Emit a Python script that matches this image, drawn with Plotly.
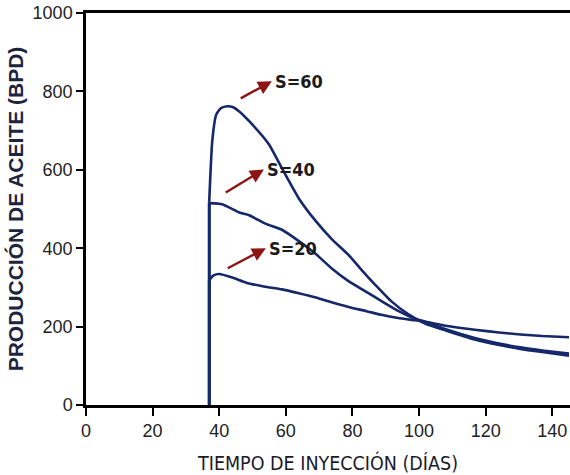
import plotly.graph_objects as go

# Oil production vs. injection time for three soaking values S
dias_s60 = [37.0, 37.0, 37.9, 39.1, 40.5, 42.4, 44.0, 46.0, 49.0, 54.9, 58.8, 63.9, 69.0, 73.7, 78.8, 82.7, 86.9, 91.6, 96.7, 101.8, 108.0, 116.7, 124.0, 130.4, 137.0, 145.0]
bpd_s60 = [0, 520, 673, 741, 757, 762, 760, 749, 724, 665, 604, 527, 469, 424, 383, 345, 306, 265, 232, 208, 190, 167, 153, 143, 135, 126]

dias_s40 = [37.0, 37.0, 40.9, 46.0, 49.0, 54.0, 58.8, 63.9, 69.0, 73.7, 78.8, 83.9, 88.7, 93.7, 98.8, 102.0, 108.0, 116.7, 124.0, 130.4, 137.0, 145.0]
bpd_s40 = [0, 515, 512, 491, 484, 462, 447, 418, 385, 349, 316, 290, 265, 240, 220, 212, 193, 171, 157, 147, 139, 131]

dias_s20 = [37.0, 37.0, 38.2, 40.0, 43.9, 48.1, 53.0, 58.8, 63.9, 69.0, 73.7, 78.8, 83.9, 88.7, 93.7, 98.8, 102.0, 108.0, 116.7, 124.0, 130.4, 137.0, 145.0]
bpd_s20 = [0, 318, 330, 334, 325, 312, 303, 295, 285, 274, 262, 250, 240, 230, 222, 216, 212, 202, 192, 185, 180, 176, 173]

etiquetas = ["S=60", "S=40", "S=20"]
# arrow tail (day, bpd) and tip (day, bpd) for each label
flecha_cola_x = [46.0, 41.5, 42.1]
flecha_cola_y = [780, 540, 347]
flecha_punta_x = [55.8, 53.4, 54.0]
flecha_punta_y = [826, 601, 400]

x_ticks = [0, 20, 40, 60, 80, 100, 120, 140]
y_ticks = [0, 200, 400, 600, 800, 1000]

LINE = "#14286a"
ARROW = "#8e1414"
NARROW = "Liberation Sans Narrow, DejaVu Sans Condensed, sans-serif"
SANS = "Liberation Sans, Arial, sans-serif"

fig = go.Figure()
for xs, ys in [(dias_s20, bpd_s20), (dias_s40, bpd_s40), (dias_s60, bpd_s60)]:
    # vertical start of injection response
    fig.add_trace(go.Scatter(
        x=xs[:2], y=ys[:2], mode="lines",
        line=dict(color=LINE, width=2.8),
        showlegend=False, hoverinfo="skip",
    ))
    # smooth production curve after the rise
    fig.add_trace(go.Scatter(
        x=xs[1:], y=ys[1:], mode="lines",
        line=dict(color=LINE, width=2.6, shape="spline", smoothing=0.5),
        showlegend=False, hoverinfo="skip",
    ))

annotations = []
for lab, tx, ty, hx, hy in zip(etiquetas, flecha_cola_x, flecha_cola_y, flecha_punta_x, flecha_punta_y):
    annotations.append(dict(
        x=hx, y=hy, ax=tx, ay=ty, xref="x", yref="y", axref="x", ayref="y",
        text="", showarrow=True, arrowhead=2, arrowsize=1.15, arrowwidth=2.4,
        arrowcolor=ARROW, standoff=0, startstandoff=0,
    ))
    annotations.append(dict(
        x=hx + 0.3, y=hy, xref="x", yref="y", text=lab, showarrow=False,
        xanchor="left", yanchor="middle",
        font=dict(family=NARROW, size=18, color="#1a1a1a", weight="bold"),
    ))

fig.update_layout(
    width=570, height=475,
    margin=dict(l=86, r=0, t=13, b=70),
    paper_bgcolor="white", plot_bgcolor="white",
    annotations=annotations,
    xaxis=dict(
        range=[0, 145.3], tickvals=x_ticks, ticktext=[str(v) for v in x_ticks],
        showgrid=False, zeroline=False,
        showline=True, linecolor="black", linewidth=2.5, mirror=True,
        ticks="outside", ticklen=8, tickwidth=2.2, tickcolor="black",
        tickfont=dict(family=SANS, size=18, color="#222222"),
        title=dict(text="TIEMPO DE INYECCIÓN (DÍAS)", standoff=17,
                   font=dict(family=NARROW, size=19.5, color="#1a1a2a")),
    ),
    yaxis=dict(
        range=[0, 1000], tickvals=y_ticks, ticktext=[str(v) for v in y_ticks],
        showgrid=False, zeroline=False,
        showline=True, linecolor="black", linewidth=2.5,
        ticks="outside", ticklen=7, tickwidth=2.2, tickcolor="black",
        tickfont=dict(family=SANS, size=18, color="#222222"),
        title=dict(text="PRODUCCIÓN DE ACEITE (BPD)", standoff=4,
                   font=dict(family=SANS, size=21, color="#1c2440", weight="bold")),
    ),
)

fig.write_html("out.html")
